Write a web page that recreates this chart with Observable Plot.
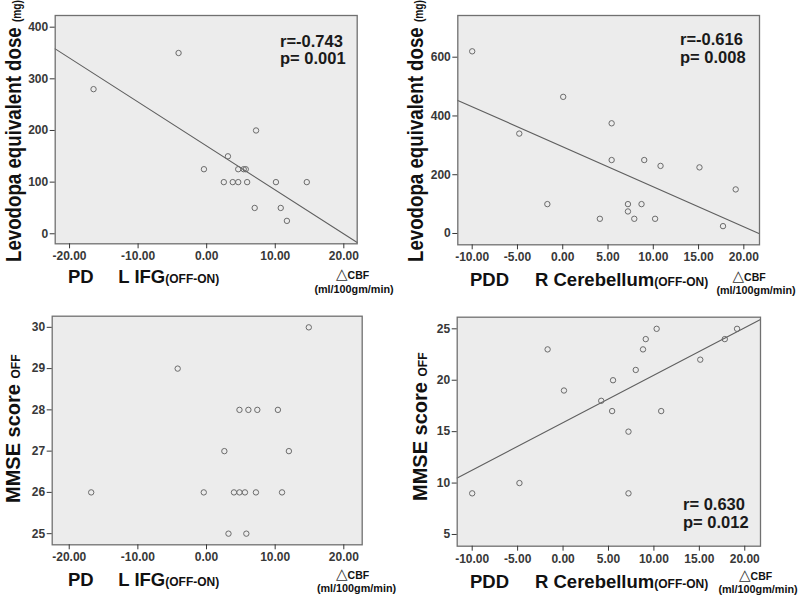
<!DOCTYPE html>
<html>
<head>
<meta charset="utf-8">
<script src="https://cdn.jsdelivr.net/npm/d3@7"></script>
<script src="https://cdn.jsdelivr.net/npm/@observablehq/plot@0.6"></script>
<style>
  body { margin: 0; background: #fff; }
  #wrap { position: relative; width: 800px; height: 595px; overflow: hidden; background: #fff; }
  #wrap > svg.plot, #wrap > figure { position: absolute; margin: 0; }
  #overlay { position: absolute; left: 0; top: 0; pointer-events: none; }
</style>
</head>
<body>
<div id="wrap"></div>
<script>
// ---------- data ----------
// Panel A: PD group, L IFG ΔCBF vs Levodopa equivalent dose
const ifgA = [-16.5, -4.1, -0.4, 2.5, 3.1, 3.8, 4.6, 4.6, 5.4, 5.7, 5.9, 7.0, 7.2, 10.1, 10.8, 11.7, 14.6];
const ledA = [280, 350, 125, 100, 150, 100, 100, 125, 125, 125, 100, 50, 200, 100, 50, 25, 100];
const fitAx = [-22.09, 21.95];
const fitAy = [358, -17];
// Panel B: PDD group, R Cerebellum ΔCBF vs Levodopa equivalent dose
const cbB = [-10.0, -4.8, -1.7, 0.05, 4.1, 5.4, 5.4, 7.2, 7.2, 7.9, 8.7, 9.0, 10.2, 10.8, 15.1, 17.7, 19.1];
const ledB = [620, 340, 100, 465, 50, 375, 250, 100, 75, 50, 100, 250, 50, 230, 225, 25, 150];
const fitBx = [-11.59, 21.73];
const fitBy = [453, -1];
// Panel C: PD group, L IFG ΔCBF vs MMSE score OFF
const ifgC = [-16.8, -4.2, -0.4, 2.6, 3.2, 4.0, 4.8, 4.8, 5.6, 5.8, 6.1, 7.2, 7.4, 10.4, 11.0, 12.0, 14.9];
const mmseC = [26, 29, 26, 27, 25, 26, 26, 28, 26, 25, 28, 26, 28, 28, 26, 27, 30];
// Panel D: PDD group, R Cerebellum ΔCBF vs MMSE score OFF
const cbD = [-10.0, -4.8, -1.7, 0.1, 4.2, 5.5, 5.4, 7.2, 7.2, 8.0, 8.8, 9.1, 10.3, 10.8, 15.1, 17.8, 19.15];
const mmseD = [9, 10, 23, 19, 18, 20, 17, 15, 9, 21, 23, 24, 25, 17, 22, 24, 25];
const fitDx = [-11.65, 21.73];
const fitDy = [10.5, 25.9];

// tick values
const xTicksPD = [-20, -10, 0, 10, 20];
const xTicksPDD = [-10, -5, 0, 5, 10, 15, 20];
const yTicksA = [0, 100, 200, 300, 400];
const yTicksB = [0, 200, 400, 600];
const yTicksC = [25, 26, 27, 28, 29, 30];
const yTicksD = [5, 10, 15, 20, 25];

// stats text
const statsA = ["r=-0.743", "p= 0.001"];
const statsB = ["r=-0.616", "p= 0.008"];
const statsD = ["r= 0.630", "p= 0.012"];

// ---------- drawing ----------
const zip = (xs, ys) => xs.map((x, i) => ({x, y: ys[i]}));
const wrap = document.getElementById("wrap");

function panel(o) {
  const marks = [
    Plot.frame({fill: "#ececec", stroke: "none"})
  ];
  if (o.fit) marks.push(Plot.line(o.fit, {x: "x", y: "y", stroke: "#5f5f5f", strokeWidth: 1.1}));
  marks.push(
    Plot.dot(o.rows, {x: "x", y: "y", r: 2.7, stroke: "#6b6b6b", strokeWidth: 1, fill: "none"}),
    Plot.frame({stroke: "#707070", strokeWidth: 1.3}),
    Plot.axisX({ticks: o.xTicks, tickFormat: d => d.toFixed(2), tickSize: 5, tickPadding: 3, label: null}),
    Plot.axisY({ticks: o.yTicks, tickFormat: d => String(d), tickSize: 5, tickPadding: 2, label: null})
  );
  const chart = Plot.plot({
    width: 400,
    height: o.height,
    marginLeft: o.m[0], marginRight: o.m[1], marginTop: o.m[2], marginBottom: o.m[3],
    x: {domain: o.xDomain},
    y: {domain: o.yDomain},
    style: {
      fontFamily: "'Liberation Sans', Arial, sans-serif",
      fontSize: "12px",
      fontWeight: "bold",
      color: "#383838",
      background: "transparent",
      overflow: "visible"
    },
    marks
  });
  chart.style.position = "absolute";
  chart.style.left = o.left + "px";
  chart.style.top = o.top + "px";
  wrap.appendChild(chart);
}

panel({left: 0, top: 0, height: 297, m: [54.7, 43.3, 15, 53.7],
  xDomain: [-22.09, 21.95], yDomain: [-19.4, 422.6],
  rows: zip(ifgA, ledA), fit: zip(fitAx, fitAy), xTicks: xTicksPD, yTicks: yTicksA});
panel({left: 400, top: 0, height: 297, m: [57.3, 41, 15, 52.7],
  xDomain: [-11.59, 21.73], yDomain: [-38.5, 741.9],
  rows: zip(cbB, ledB), fit: zip(fitBx, fitBy), xTicks: xTicksPDD, yTicks: yTicksB});
panel({left: 0, top: 297, height: 298, m: [51.7, 38.3, 18.7, 50.7],
  xDomain: [-22.48, 22.68], yDomain: [24.73, 30.27],
  rows: zip(ifgC, mmseC), fit: null, xTicks: xTicksPD, yTicks: yTicksC});
panel({left: 400, top: 297, height: 298, m: [56.7, 40, 19.7, 49.3],
  xDomain: [-11.65, 21.73], yDomain: [3.86, 26.13],
  rows: zip(cbD, mmseD), fit: zip(fitDx, fitDy), xTicks: xTicksPDD, yTicks: yTicksD});

// ---------- text overlay ----------
const svg = d3.select(wrap).append("svg")
  .attr("id", "overlay").attr("width", 800).attr("height", 595)
  .style("font-family", "'Liberation Sans', Arial, sans-serif")
  .style("font-weight", "bold").attr("fill", "#111");

function yTitle(x, y, main, small, size, sx) {
  const t = svg.append("text")
    .attr("transform", `translate(${x},${y}) rotate(-90) scale(${sx},1)`)
    .attr("font-size", size);
  t.append("tspan").text(main + " ");
  t.append("tspan").attr("font-size", 12).text(small);
}
yTitle(21, 262, "Levodopa equivalent dose", "(mg)", 22, 0.85);
yTitle(423, 262, "Levodopa equivalent dose", "(mg)", 22, 0.85);
yTitle(19.5, 503, "MMSE score", "OFF", 20, 1);
yTitle(426.5, 501, "MMSE score", "OFF", 20, 1);

function xTitle(xg, xr, y, group, region) {
  svg.append("text").attr("x", xg).attr("y", y).attr("font-size", 18.5).text(group);
  const t = svg.append("text").attr("x", xr).attr("y", y).attr("font-size", 18.5);
  t.append("tspan").text(region);
  t.append("tspan").attr("font-size", 12).text("(OFF-ON)");
}
xTitle(68, 118.3, 283, "PD", "L IFG");
xTitle(470, 535, 286, "PDD", "R Cerebellum");
xTitle(68, 118.3, 586, "PD", "L IFG");
xTitle(470, 535, 588, "PDD", "R Cerebellum");

function unit(xd, yd, cx, yu) {
  const t = svg.append("text").attr("x", xd).attr("y", yd);
  t.append("tspan").attr("font-family", "'DejaVu Sans', sans-serif").attr("font-weight", "normal")
    .attr("font-size", 15).attr("fill", "#333").text("\u25B3");
  t.append("tspan").attr("font-size", 10.5).attr("dx", 0).text("CBF");
  svg.append("text").attr("x", cx).attr("y", yu).attr("font-size", 10.8)
    .attr("text-anchor", "middle").text("(ml/100gm/min)");
}
unit(336, 279, 354, 293);
unit(732.5, 281, 756, 294);
unit(336, 579, 356.5, 592);
unit(739, 580, 758, 593);

function stats(x, y1, y2, lines) {
  svg.append("text").attr("x", x).attr("y", y1).attr("font-size", 16.5).attr("fill", "#1a1a1a").text(lines[0]);
  svg.append("text").attr("x", x).attr("y", y2).attr("font-size", 16.5).attr("fill", "#1a1a1a").text(lines[1]);
}
stats(280, 46.5, 64, statsA);
stats(680, 45, 63, statsB);
stats(683, 510, 528, statsD);
</script>
</body>
</html>
